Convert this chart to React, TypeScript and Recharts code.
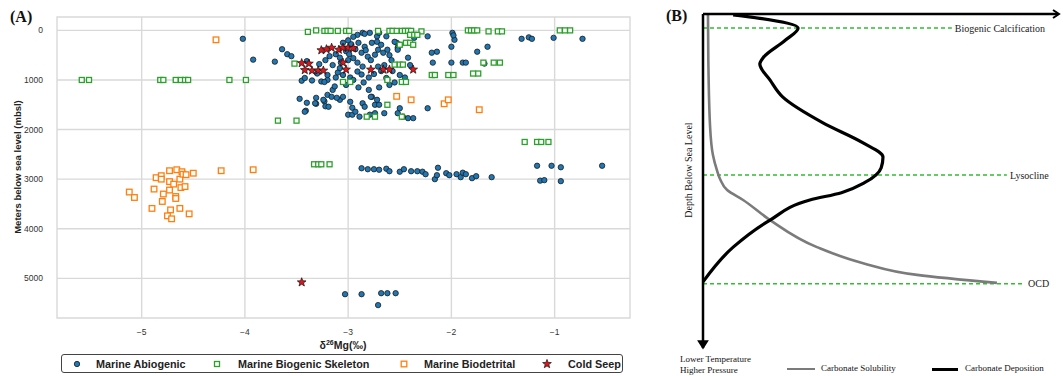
import React from 'react';
import {
  ScatterChart, Scatter, XAxis, YAxis, CartesianGrid, ReferenceArea,
  ComposedChart, Line, ReferenceLine, ReferenceDot,
} from 'recharts';

// ---- panel A data: [δ26Mg, depth (mbsl)] ----
const xTicks = [-5, -4, -3, -2, -1];
const yTicks = [0, 1000, 2000, 3000, 4000, 5000];

const abiogenic: [number, number][] = [
  [-4.02, 170], [-3.92, 590], [-3.71, 630], [-3.64, 380], [-3.59, 480], [-3.55, 520],
  [-3.45, 1015], [-3.42, 960], [-3.35, 1010], [-3.26, 1030], [-3.2, 1000], [-3.23, 1040],
  [-3.47, 1380], [-3.4, 1460], [-3.41, 1620], [-3.31, 1360], [-3.31, 1480], [-3.23, 1430],
  [-3.22, 1530], [-3.2, 1300], [-3.15, 1200], [-3.13, 1130], [-3.08, 1400], [-3.05, 1340],
  [-3.0, 1700], [-3.02, 1100], [-2.96, 1560], [-2.96, 1700], [-2.93, 1640], [-2.89, 1740],
  [-2.98, 1440], [-2.86, 1470], [-2.84, 1540], [-2.77, 1340], [-2.74, 1500], [-2.74, 1670],
  [-2.7, 1500], [-2.65, 1670], [-2.52, 1670], [-2.47, 1740], [-2.42, 1770], [-2.37, 1770],
  [-2.23, 1570], [-3.16, 1340], [-3.11, 1360], [-3.19, 1540], [-3.24, 1400], [-3.32, 1470],
  [-2.78, 1340], [-2.72, 1400], [-2.79, 1700], [-2.5, 1570], [-3.42, 1640],
  [-2.91, 90], [-2.86, 50], [-2.79, 50], [-2.72, 120], [-2.7, 50], [-2.63, 120], [-2.53, 250],
  [-2.52, 350], [-2.84, 70], [-2.95, 130], [-3.0, 200], [-3.05, 250], [-2.97, 280], [-2.9, 250],
  [-2.84, 330], [-2.77, 250], [-2.72, 230], [-2.68, 290], [-2.71, 390], [-2.87, 450],
  [-2.81, 530], [-2.74, 490], [-2.66, 450], [-2.62, 390], [-2.55, 230], [-2.5, 290],
  [-2.52, 390], [-2.91, 650], [-2.86, 730], [-2.91, 830], [-2.87, 890], [-2.71, 730],
  [-2.62, 990], [-2.95, 560], [-3.0, 600], [-3.08, 550], [-3.12, 480], [-3.18, 520],
  [-3.22, 600], [-3.28, 680], [-3.15, 700], [-3.1, 850], [-3.05, 900], [-2.98, 950],
  [-3.12, 950], [-3.2, 900], [-3.3, 870], [-2.95, 1000], [-2.85, 1050], [-2.8, 950],
  [-2.75, 880], [-2.68, 820], [-2.65, 700], [-2.58, 600], [-2.6, 500], [-2.78, 600],
  [-2.83, 400], [-3.02, 420], [-2.93, 380], [-2.99, 480], [-3.07, 650], [-2.9, 1150],
  [-2.8, 1200], [-2.7, 1150], [-2.6, 1100], [-2.55, 1050], [-3.08, 760], [-2.57, 820],
  [-2.5, 900], [-2.45, 950], [-2.4, 700], [-2.42, 550], [-3.4, 620], [-2.63, 960],
  [-2.36, 150], [-2.23, 120], [-2.14, 430], [-2.19, 450], [-2.18, 650], [-2.0, 330],
  [-1.99, 50], [-1.97, 190], [-1.98, 100], [-2.0, 650], [-1.89, 650], [-1.86, 650],
  [-1.75, 430], [-1.65, 330], [-1.68, 670], [-1.32, 170], [-1.25, 140], [-1.22, 170],
  [-1.01, 150], [-0.73, 170],
  [-2.87, 2780], [-2.81, 2800], [-2.75, 2800], [-2.7, 2810], [-2.63, 2790], [-2.6, 2840],
  [-2.5, 2850], [-2.46, 2800], [-2.39, 2840], [-2.33, 2840], [-2.28, 2850], [-2.25, 2900],
  [-2.16, 3000], [-2.14, 2920], [-2.13, 2770], [-2.05, 2880], [-2.02, 2920], [-1.95, 2900],
  [-1.91, 2960], [-1.89, 2870], [-1.86, 2900], [-1.8, 2980], [-1.76, 2940], [-1.61, 2960],
  [-1.17, 2730], [-1.03, 2730], [-0.94, 2760], [-0.54, 2730], [-1.14, 3030], [-1.1, 3020],
  [-0.94, 3040],
  [-3.03, 5320], [-2.87, 5320], [-2.68, 5300], [-2.62, 5300], [-2.54, 5300], [-2.71, 5540],
];

const biogenicSkeleton: [number, number][] = [
  [-5.58, 1000], [-5.51, 1000], [-4.82, 1000], [-4.79, 1000], [-4.67, 1000], [-4.62, 1000],
  [-4.58, 1000], [-4.55, 1000], [-4.15, 1000], [-3.99, 1000],
  [-3.68, 1820], [-3.5, 1820],
  [-3.33, 2700], [-3.29, 2700], [-3.26, 2700], [-3.18, 2700],
  [-3.52, 670],
  [-3.39, 30], [-3.31, 0], [-3.23, 10], [-3.2, 10], [-3.17, 10], [-3.1, 10], [-3.02, 10],
  [-2.99, 10], [-2.71, 10], [-2.6, 10], [-2.57, 10], [-2.53, 10], [-2.48, 10], [-2.45, 10],
  [-2.42, 10], [-2.39, 10], [-2.29, 20],
  [-2.4, 90], [-2.36, 90], [-2.33, 90], [-2.5, 290], [-2.44, 250], [-2.4, 250], [-2.37, 290],
  [-2.55, 690], [-2.5, 690], [-2.47, 690],
  [-2.19, 900], [-2.16, 900], [-2.03, 900], [-1.98, 900], [-1.79, 870], [-1.74, 870],
  [-1.69, 650], [-1.59, 650], [-1.53, 650],
  [-1.84, 0], [-1.81, 0], [-1.78, 0], [-1.75, 0], [-1.64, 20], [-1.55, 20], [-1.51, 20],
  [-0.95, 0], [-0.9, 0], [-0.85, 0],
  [-3.05, 1040], [-2.98, 1040], [-2.62, 1000], [-2.48, 1040], [-2.44, 1040],
  [-2.62, 1500], [-2.82, 1740], [-2.74, 1740], [-2.48, 1740],
  [-1.29, 2250], [-1.17, 2250], [-1.13, 2250], [-1.06, 2250],
];

const biodetrital: [number, number][] = [
  [-4.28, 190], [-5.12, 3260], [-5.07, 3370], [-4.88, 3200], [-4.9, 3590], [-4.86, 2970],
  [-4.81, 2930], [-4.81, 3000], [-4.79, 3300], [-4.8, 3450], [-4.73, 2830], [-4.73, 3050],
  [-4.73, 3220], [-4.72, 3620], [-4.75, 3740], [-4.71, 3800], [-4.69, 3100], [-4.67, 3350],
  [-4.67, 3390], [-4.66, 2810], [-4.63, 3000], [-4.62, 3170], [-4.61, 2850], [-4.6, 2900],
  [-4.58, 3150], [-4.57, 2910], [-4.63, 3590], [-4.54, 3700], [-4.5, 2880], [-4.23, 2830],
  [-3.92, 2810], [-2.53, 1330], [-2.39, 1400], [-2.07, 1480], [-2.03, 1400], [-1.73, 1600],
];

const coldSeep: [number, number][] = [
  [-3.45, 660], [-3.38, 670], [-3.42, 800], [-3.35, 810], [-3.29, 810], [-3.24, 810],
  [-3.26, 400], [-3.21, 380], [-3.16, 350], [-3.09, 390], [-3.05, 350], [-3.0, 350],
  [-2.95, 360], [-3.05, 650], [-3.02, 790], [-2.78, 790], [-2.66, 790], [-2.6, 790],
  [-2.37, 790], [-3.45, 5080],
];

// ---- panel B data: schematic profiles, [value, depth] on 0-100 scales ----
const solubility: [number, number][] = [
  [1.4, 0], [1.5, 13.8], [2, 33.8], [2.8, 42.2], [3.9, 46.7], [4.8, 49.4], [6.8, 52.7],
  [11.3, 55.7], [18.9, 61.7], [32.1, 69.8], [45.1, 74.6], [60.3, 78.1], [82.8, 80.5],
];
const deposition: [number, number][] = [
  [8.5, 0.3], [16, 1.3], [26.8, 4.2], [23, 8], [17, 13], [16, 15], [18.9, 19.8], [22.5, 24.9],
  [33.8, 32.6], [45.1, 38.6], [50.7, 42.8], [50.2, 46], [45.5, 50.5], [39, 53.5], [30.1, 55.7],
  [18.9, 61.7], [8.5, 69.8], [0, 80.2],
];
const zones = [
  { name: 'Biogenic Calcification', depth: 4.2, end: 70.1 },
  { name: 'Lysocline', depth: 48.2, end: 85.6 },
  { name: 'OCD', depth: 80.8, end: 90.7 },
];

const sans = '"Liberation Sans", Arial, sans-serif';
const serif = '"Liberation Serif", "Times New Roman", serif';
const gridColor = '#d9d9d9';

const pts = (a: [number, number][]) => a.map(([x, y]) => ({ x, y }));
const prof = (a: [number, number][]) => a.map(([v, d]) => ({ v, d }));
const minus = (v: number) => String(v).replace('-', '\u2212');

const starPath = (cx: number, cy: number, R: number, r: number) => {
  let d = '';
  for (let i = 0; i < 10; i++) {
    const rad = i % 2 === 0 ? R : r;
    const a = -Math.PI / 2 + (i * Math.PI) / 5;
    d += `${i === 0 ? 'M' : 'L'}${cx + rad * Math.cos(a)},${cy + rad * Math.sin(a)}`;
  }
  return d + 'Z';
};

const BlueDot = (p: any) => (
  <circle cx={p.cx} cy={p.cy} r={2.7} fill="#1f77b4" stroke="#1b1b1b" strokeWidth={0.8} />
);
const square = (color: string, s: number) => (p: any) => (
  <rect x={p.cx - s / 2} y={p.cy - s / 2} width={s} height={s} fill="#fff" stroke={color} strokeWidth={1.3} />
);
const RedStar = (p: any) => (
  <path d={starPath(p.cx, p.cy, 4.6, 1.9)} fill="#e0161b" stroke="#111" strokeWidth={0.7} />
);

const abs = (left: number, top: number, extra: React.CSSProperties = {}): React.CSSProperties => ({
  position: 'absolute', left, top, whiteSpace: 'nowrap', ...extra,
});

const App: React.FC = () => {
  return (
    <div style={{ position: 'absolute', left: 0, top: 0, width: 1063, height: 376, background: '#fff', overflow: 'hidden' }}>
      {/* (A) scatter */}
      <div style={{ position: 'absolute', left: 0, top: 0 }}>
        <ScatterChart width={640} height={376} margin={{ top: 17, right: 10, bottom: 28, left: 7 }}>
          <CartesianGrid stroke={gridColor} strokeWidth={1.4} horizontalValues={yTicks} verticalValues={xTicks} />
          <XAxis
            dataKey="x" type="number" domain={[-5.82, -0.27]} ticks={xTicks} allowDataOverflow
            tickFormatter={minus} tickLine={false} axisLine={false} height={30} tickMargin={5}
            tick={{ fontSize: 8.5, fill: '#333', fontFamily: sans }}
          />
          <YAxis
            dataKey="y" type="number" domain={[-270, 5800]} ticks={yTicks} reversed allowDataOverflow
            tickLine={false} axisLine={false} width={50} tickMargin={8}
            tick={{ fontSize: 8.5, fill: '#333', fontFamily: sans }}
          />
          <ReferenceArea x1={-5.82} x2={-0.27} y1={-270} y2={5800} fill="none" stroke={gridColor} strokeWidth={1.4} />
          <Scatter data={pts(abiogenic)} shape={BlueDot} isAnimationActive={false} />
          <Scatter data={pts(biogenicSkeleton)} shape={square('#2ca02c', 5)} isAnimationActive={false} />
          <Scatter data={pts(biodetrital)} shape={square('#ff7f0e', 5.6)} isAnimationActive={false} />
          <Scatter data={pts(coldSeep)} shape={RedStar} isAnimationActive={false} />
        </ScatterChart>
      </div>

      {/* (B) schematic */}
      <div style={{ position: 'absolute', left: 640, top: 0 }}>
        <ComposedChart layout="vertical" width={423} height={376} margin={{ top: 14, right: 5, bottom: 28, left: 63 }}>
          <XAxis type="number" domain={[0, 100]} hide allowDataOverflow />
          <YAxis type="number" dataKey="d" domain={[0, 100]} hide allowDataOverflow />
          {zones.map((z) => (
            <ReferenceLine
              key={z.name}
              segment={[{ x: 0, y: z.depth }, { x: z.end, y: z.depth }]}
              stroke="#2fbf2f" strokeWidth={1.5} strokeDasharray="4 3"
              label={{ value: z.name, position: 'right', offset: 3, fill: '#222', fontSize: 10, fontFamily: serif }}
            />
          ))}
          <Line data={prof(solubility)} dataKey="v" type="monotone" stroke="#7b7b7b" strokeWidth={2.6} dot={false} isAnimationActive={false} />
          <Line data={prof(deposition)} dataKey="v" type="monotone" stroke="#000" strokeWidth={3.2} dot={false} isAnimationActive={false} />
          <ReferenceLine segment={[{ x: 0, y: 0 }, { x: 100, y: 0 }]} stroke="#000" strokeWidth={2.5} />
          <ReferenceLine segment={[{ x: 0, y: 0 }, { x: 0, y: 100 }]} stroke="#000" strokeWidth={2.5} />
          <ReferenceDot
            x={100} y={0} r={0}
            shape={(p: any) => <path d={`M${p.cx - 5},${p.cy - 4}L${p.cx + 1},${p.cy}L${p.cx - 5},${p.cy + 4}`} fill="none" stroke="#000" strokeWidth={2} />}
          />
          <ReferenceDot
            x={0} y={100} r={0}
            shape={(p: any) => <path d={`M${p.cx - 4.5},${p.cy - 7}L${p.cx},${p.cy}L${p.cx + 4.5},${p.cy - 7}Z`} fill="#000" stroke="#000" strokeWidth={1.5} />}
          />
        </ComposedChart>
      </div>

      {/* text for panel A */}
      <div style={abs(10, 8, { fontFamily: serif, fontWeight: 'bold', fontSize: 16, color: '#111' })}>(A)</div>
      <div style={abs(17, 167, { transform: 'translate(-50%, -50%) rotate(-90deg)', fontFamily: sans, fontWeight: 'bold', fontSize: 9.5, color: '#222' })}>
        Meters below sea level (mbsl)
      </div>
      <div style={abs(343, 345, { transform: 'translate(-50%, -50%)', fontFamily: sans, fontWeight: 'bold', fontSize: 10.5, color: '#222' })}>
        δ<sup style={{ fontSize: 7 }}>26</sup>Mg(‰)
      </div>
      <div style={abs(61, 354, { width: 562, height: 19, border: '1px solid #444', borderRadius: 3, boxSizing: 'border-box' })} />
      <svg style={abs(0, 354)} width={640} height={22}>
        <circle cx={77} cy={10} r={2.7} fill="#1f77b4" stroke="#1b1b1b" strokeWidth={0.8} />
        <rect x={214.5} y={7.5} width={5} height={5} fill="#fff" stroke="#2ca02c" strokeWidth={1.3} />
        <rect x={401.2} y={7.2} width={5.6} height={5.6} fill="#fff" stroke="#ff7f0e" strokeWidth={1.3} />
        <path d={starPath(547, 10, 4.6, 1.9)} fill="#e0161b" stroke="#111" strokeWidth={0.7} />
      </svg>
      {[
        ['Marine Abiogenic', 96],
        ['Marine Biogenic Skeleton', 238],
        ['Marine Biodetrital', 424],
        ['Cold Seep', 568],
      ].map(([t, x]) => (
        <div key={t as string} style={abs(x as number, 358, { fontFamily: sans, fontWeight: 'bold', fontSize: 10.8, lineHeight: '12px', color: '#222' })}>{t}</div>
      ))}

      {/* text for panel B */}
      <div style={abs(666, 7, { fontFamily: serif, fontWeight: 'bold', fontSize: 16, color: '#111' })}>(B)</div>
      <div style={abs(688, 170, { transform: 'translate(-50%, -50%) rotate(-90deg)', fontFamily: serif, fontSize: 10, color: '#111' })}>
        Depth Below Sea Level
      </div>
      <div style={abs(680, 354, { fontFamily: serif, fontSize: 9, lineHeight: '10.5px', color: '#111' })}>
        Lower Temperature<br />Higher Pressure
      </div>
      <div style={abs(787, 368, { width: 28, height: 2, background: '#7b7b7b' })} />
      <div style={abs(821, 363, { fontFamily: serif, fontSize: 9, lineHeight: '11px', color: '#111' })}>Carbonate Solubility</div>
      <div style={abs(932, 368, { width: 26, height: 2.5, background: '#000' })} />
      <div style={abs(965, 363, { fontFamily: serif, fontSize: 9, lineHeight: '11px', color: '#111' })}>Carbonate Deposition</div>
    </div>
  );
};

export default App;
